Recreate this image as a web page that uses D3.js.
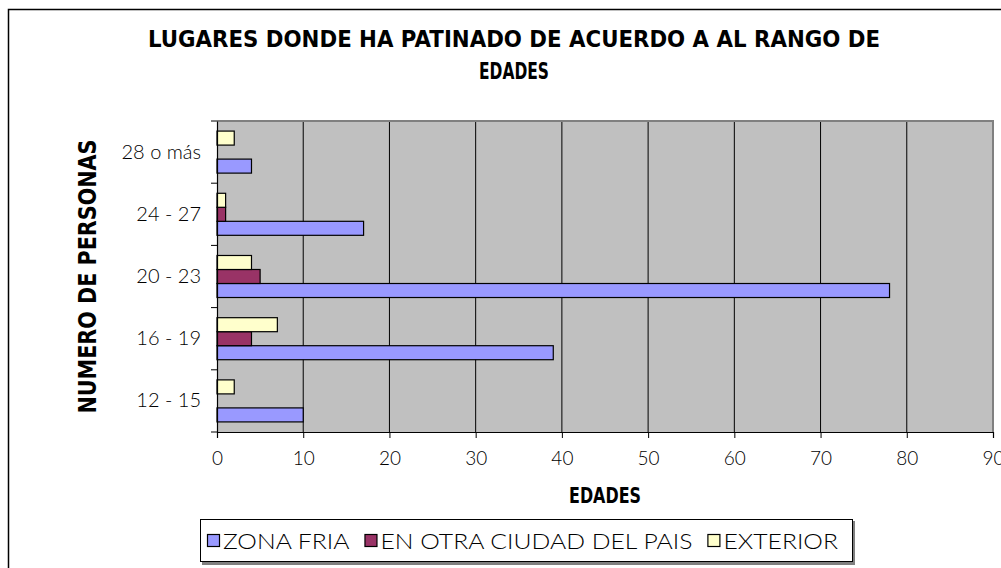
<!DOCTYPE html>
<html>
<head>
<meta charset="utf-8">
<script src="https://cdn.jsdelivr.net/npm/d3@7"></script>
<style>
  body { margin: 0; background: #fff; }
  svg { display: block; }
  text { font-family: "DejaVu Sans", sans-serif; fill: #000; }
  .light { font-family: "Lato", "DejaVu Sans", sans-serif; font-weight: 300; }
</style>
</head>
<body>
<svg id="chart" width="1001" height="568"></svg>
<script>
// data
const categories = ["12 - 15", "16 - 19", "20 - 23", "24 - 27", "28 o más"];
const seriesNames = ["ZONA FRIA", "EN OTRA CIUDAD DEL PAIS", "EXTERIOR"];
const zonaFria = [10, 39, 78, 17, 4];
const otraCiudad = [0, 4, 5, 1, 0];
const exterior = [2, 7, 4, 1, 2];
const xTicks = [0, 10, 20, 30, 40, 50, 60, 70, 80, 90];
const colors = ["#9999FF", "#993366", "#FFFFCC"];

const svg = d3.select("#chart");

// plot box
const plotLeft = 217, plotRight = 993, plotTop = 121, plotBottom = 432;

// outer chart frame (runs off the picture on right and bottom)
svg.append("rect")
    .attr("x", 8.5).attr("y", 9.5)
    .attr("width", 1100).attr("height", 700)
    .attr("fill", "#fff").attr("stroke", "#000").attr("stroke-width", 1.5);

const x = d3.scaleLinear().domain([0, 90]).range([plotLeft, plotRight]);
const y = d3.scaleBand().domain(categories.slice().reverse()).range([plotTop, plotBottom]);
// top-to-bottom order inside a band: EXTERIOR, EN OTRA, ZONA FRIA
const ySub = d3.scaleBand().domain([2, 1, 0]).range([0, y.bandwidth()]).paddingOuter(0.72);

svg.append("rect")
    .attr("x", plotLeft).attr("y", plotTop)
    .attr("width", plotRight - plotLeft).attr("height", plotBottom - plotTop)
    .attr("fill", "#C0C0C0");

// vertical gridlines
svg.append("g").selectAll("line")
    .data(xTicks.filter(d => d > 0 && d < 90))
    .join("line")
    .attr("x1", d => x(d)).attr("x2", d => x(d))
    .attr("y1", plotTop).attr("y2", plotBottom)
    .attr("stroke", "#000").attr("stroke-width", 1);

// grey top/right border of the plot area
svg.append("path")
    .attr("d", `M${plotLeft},${plotTop}H${plotRight}V${plotBottom}`)
    .attr("fill", "none").attr("stroke", "#808080").attr("stroke-width", 2);

const allSeries = [zonaFria, otraCiudad, exterior];
const bars = [];
allSeries.forEach((vals, s) => {
    vals.forEach((v, i) => bars.push({ cat: categories[i], s: s, v: v }));
});

svg.append("g").selectAll("rect")
    .data(bars.filter(d => d.v > 0))
    .join("rect")
    .attr("x", x(0))
    .attr("y", d => y(d.cat) + ySub(d.s))
    .attr("width", d => x(d.v) - x(0))
    .attr("height", ySub.bandwidth())
    .attr("fill", d => colors[d.s])
    .attr("stroke", "#000").attr("stroke-width", 1.2);

// x axis
const xAxis = svg.append("g")
    .attr("transform", `translate(0,${plotBottom})`)
    .call(d3.axisBottom(x).tickValues(xTicks).tickSize(6).tickPadding(14));
xAxis.select(".domain").attr("stroke", "#000").attr("stroke-width", 1.2);
xAxis.selectAll(".tick line").attr("stroke", "#000");
xAxis.selectAll("text")
    .attr("class", "light").attr("font-size", 19).attr("font-family", null);

// y axis: ticks sit on the band boundaries
const yAxis = svg.append("g")
    .attr("transform", `translate(${plotLeft},0)`)
    .call(d3.axisLeft(y).tickSize(0).tickPadding(16));
yAxis.select(".domain").attr("stroke", "#000").attr("stroke-width", 1.2);
yAxis.selectAll("text")
    .attr("class", "light").attr("font-size", 20).attr("font-family", null);
yAxis.append("g").selectAll("line")
    .data(categories.slice().reverse().map(c => y(c)).concat([plotBottom]))
    .join("line")
    .attr("x1", -6).attr("x2", 0)
    .attr("y1", d => d).attr("y2", d => d)
    .attr("stroke", "#000");

// titles
const title = svg.append("g").attr("font-weight", "bold").attr("text-anchor", "middle");
title.append("text").attr("x", 514).attr("y", 47)
    .attr("font-size", 23)
    .attr("textLength", 732).attr("lengthAdjust", "spacingAndGlyphs")
    .text("LUGARES DONDE HA PATINADO DE ACUERDO A AL RANGO DE");
title.append("text").attr("x", 514).attr("y", 79)
    .attr("font-size", 23)
    .attr("textLength", 70).attr("lengthAdjust", "spacingAndGlyphs")
    .text("EDADES");

svg.append("text")
    .attr("x", (plotLeft + plotRight) / 2).attr("y", 503)
    .attr("text-anchor", "middle").attr("font-weight", "bold").attr("font-size", 22)
    .attr("textLength", 72).attr("lengthAdjust", "spacingAndGlyphs")
    .text("EDADES");

svg.append("text")
    .attr("transform", `translate(96,${(plotTop + plotBottom) / 2}) rotate(-90)`)
    .attr("text-anchor", "middle").attr("font-weight", "bold").attr("font-size", 24)
    .attr("textLength", 274).attr("lengthAdjust", "spacingAndGlyphs")
    .text("NUMERO DE PERSONAS");

// legend box
const legend = svg.append("g");
legend.append("rect")
    .attr("x", 202).attr("y", 521).attr("width", 653).attr("height", 44)
    .attr("fill", "#808080");
legend.append("rect")
    .attr("x", 200.5).attr("y", 519.5).attr("width", 652).attr("height", 42)
    .attr("fill", "#fff").attr("stroke", "#000").attr("stroke-width", 1);

// entries laid out one after another, text stretched to fill the box
const legStart = 207, legEnd = 838, sq = 12, sqGap = 4, itemGap = 15;
const item = legend.selectAll("g.item")
    .data(seriesNames)
    .join("g").attr("class", "item");
item.append("rect")
    .attr("x", 0.5).attr("y", -6.5).attr("width", sq).attr("height", sq)
    .attr("fill", (d, i) => colors[i]).attr("stroke", "#000").attr("stroke-width", 1.2);
const legText = item.append("text")
    .attr("class", "light")
    .attr("x", sq + sqGap).attr("y", 8)
    .attr("font-size", 21)
    .text(d => d);

const widths = legText.nodes().map(n => n.getComputedTextLength());
const free = (legEnd - legStart) - seriesNames.length * (sq + sqGap) - (seriesNames.length - 1) * itemGap;
const k = free / d3.sum(widths);
let cursor = legStart;
item.each(function (d, i) {
    d3.select(this).attr("transform", `translate(${cursor},541)`);
    cursor += sq + sqGap + widths[i] * k + itemGap;
});
legText
    .attr("textLength", (d, i) => widths[i] * k)
    .attr("lengthAdjust", "spacingAndGlyphs");
</script>
</body>
</html>
